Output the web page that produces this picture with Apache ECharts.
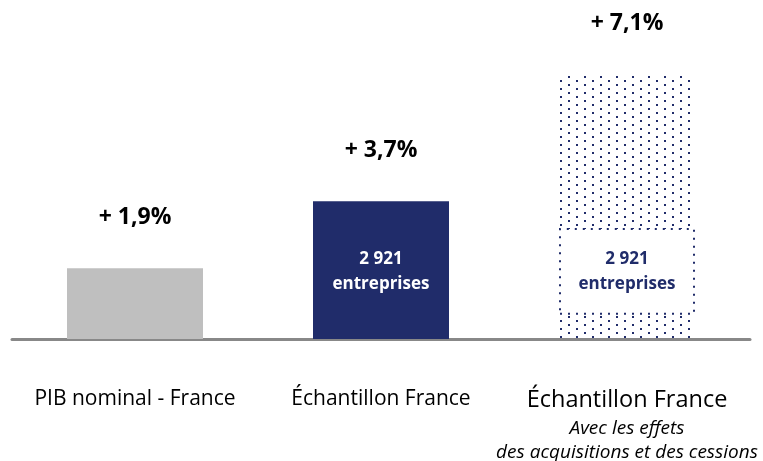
<!DOCTYPE html>
<html>
<head>
<meta charset="utf-8">
<script src="https://cdn.jsdelivr.net/npm/echarts@6/dist/echarts.min.js"></script>
<style>
  html, body { margin: 0; padding: 0; background: #fff; }
  #chart { width: 763px; height: 461px; }
</style>
</head>
<body>
<div id="chart"></div>
<script>
// données
var categories = ['PIB nominal - France', 'Échantillon France', 'Échantillon France'];
var subtitleLines = ['Avec les effets', 'des acquisitions et des cessions'];
var growth = [1.9, 3.7, 7.1];
var boxBase = [null, 0.65, 0.65];
var boxHeight = [null, 2.33, 2.33];
var boxText = '2 921\nentreprises';

var navy = '#202c6a';
var font = 'Open Sans';

// motif pointillé pour la 3e barre
var tile = document.createElement('canvas');
tile.width = 16;
tile.height = 8;
var ctx = tile.getContext('2d');
ctx.fillStyle = navy;
ctx.fillRect(0, 0, 2, 2);
ctx.fillRect(8, 4, 2, 2);
var dotted = { image: tile, repeat: 'repeat' };

var barColors = ['#bfbfbf', navy, dotted];

var myChart = echarts.init(document.getElementById('chart'));

var options = {
  animation: false,
  textStyle: { fontFamily: font },
  grid: { left: 12, right: 13, top: 41, bottom: 122, containLabel: false, outerBoundsMode: 'none' },
  xAxis: {
    type: 'category',
    data: categories,
    axisLine: { lineStyle: { color: '#888888', width: 3 } },
    axisTick: { show: false },
    axisLabel: {
      interval: 0,
      margin: 48,
      color: '#000',
      fontFamily: font,
      fontSize: 21,
      lineHeight: 24,
      formatter: function (v, i) {
        if (i === 2) {
          return '{big|' + v + '}\n{it1|' + subtitleLines[0] + '}\n{it2|' + subtitleLines[1] + '}';
        }
        return v;
      },
      rich: {
        big: { fontSize: 23.5, lineHeight: 27, color: '#000', fontFamily: font },
        it1: { fontSize: 19, lineHeight: 30, fontStyle: 'italic', color: '#000', fontFamily: font },
        it2: { fontSize: 19, lineHeight: 18, fontStyle: 'italic', color: '#000', fontFamily: font }
      }
    }
  },
  yAxis: { type: 'value', min: 0, max: 8, show: false },
  series: [
    {
      name: 'croissance',
      type: 'bar',
      barWidth: 136,
      barGap: '-100%',
      data: growth.map(function (v, i) {
        return { value: v, itemStyle: { color: barColors[i] } };
      }),
      label: {
        show: true,
        position: 'top',
        distance: 38,
        color: '#000',
        fontFamily: font,
        fontSize: 23,
        lineHeight: 26,
        fontWeight: 'bold',
        formatter: function (p) {
          return '+ ' + p.value.toFixed(1).replace('.', ',') + '%';
        }
      }
    },
    {
      name: 'base',
      type: 'bar',
      stack: 'box',
      barWidth: 136,
      barGap: '-100%',
      silent: true,
      itemStyle: { color: 'transparent' },
      data: boxBase
    },
    {
      name: 'box',
      type: 'bar',
      stack: 'box',
      barWidth: 136,
      barGap: '-100%',
      data: boxHeight.map(function (v, i) {
        if (i === 2) {
          return {
            value: v,
            itemStyle: { color: '#fff', borderColor: navy, borderWidth: 2, borderType: [2, 6] },
            label: { color: navy }
          };
        }
        return { value: v, itemStyle: { color: 'transparent' }, label: { color: '#fff' } };
      }),
      label: {
        show: true,
        position: 'inside',
        fontFamily: font,
        fontSize: 17,
        fontWeight: 'bold',
        lineHeight: 25,
        formatter: function (p) { return p.value == null ? '' : boxText; }
      }
    }
  ]
};

myChart.setOption(options, true);
</script>
</body>
</html>
